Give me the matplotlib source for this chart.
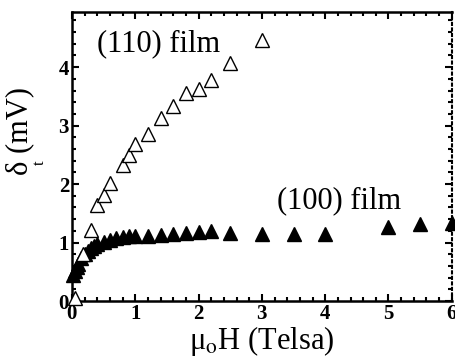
import numpy as np
import matplotlib.pyplot as plt
from matplotlib.ticker import MultipleLocator

plt.rcParams['font.family'] = ['Liberation Serif', 'DejaVu Serif']
plt.rcParams['mathtext.fontset'] = 'stix'

# (110) film, open triangles
h110 = [0.05, 0.17, 0.30, 0.40, 0.50, 0.60, 0.80, 0.90, 1.00, 1.20, 1.40, 1.60, 1.80, 2.00, 2.20, 2.50, 3.00]
d110 = [0.05, 0.80, 1.22, 1.65, 1.82, 2.02, 2.32, 2.50, 2.68, 2.85, 3.13, 3.33, 3.55, 3.62, 3.78, 4.08, 4.47]

# (100) film, filled triangles
h100 = [0.02, 0.05, 0.08, 0.10, 0.15, 0.20, 0.25, 0.30, 0.35, 0.40, 0.50, 0.60, 0.70, 0.80, 0.90, 1.00,
        1.20, 1.40, 1.60, 1.80, 2.00, 2.20, 2.50, 3.00, 3.50, 4.00, 5.00, 5.50, 6.00]
d100 = [0.45, 0.52, 0.58, 0.64, 0.73, 0.80, 0.86, 0.90, 0.94, 0.97, 1.01, 1.04, 1.08, 1.10, 1.11, 1.12,
        1.12, 1.13, 1.14, 1.16, 1.18, 1.20, 1.16, 1.15, 1.14, 1.14, 1.26, 1.31, 1.34]

fig = plt.figure(figsize=(4.55, 3.64), dpi=100)
ax = fig.add_axes([0.158, 0.173, 0.835, 0.795])

ax.plot(h100, d100, linestyle='none', marker='^', markersize=10, color='black', clip_on=False, zorder=3)
ax.plot(h110, d110, linestyle='none', marker='^', markersize=10.5, markerfacecolor='white',
        markeredgecolor='black', markeredgewidth=1.0, clip_on=False, zorder=4)

ax.set_xlim(0, 6)
ax.set_ylim(0, 4.95)
ax.xaxis.set_major_locator(MultipleLocator(1))
ax.xaxis.set_minor_locator(MultipleLocator(0.2))
ax.set_yticks([0, 1, 2, 3, 4])
ax.yaxis.set_minor_locator(MultipleLocator(0.2))
ax.tick_params(which='both', direction='in', top=True, right=True, width=1.5)
ax.tick_params(which='major', length=5, labelsize=15, pad=2)
ax.tick_params(which='minor', length=3)
for lab in ax.get_xticklabels() + ax.get_yticklabels():
    lab.set_fontweight('bold')

for side in ['left', 'bottom', 'top']:
    ax.spines[side].set_linewidth(1.8)
ax.spines['right'].set_linestyle(':')
ax.spines['right'].set_linewidth(1.5)

ax.text(0.4, 4.4, '(110) film', fontsize=22, va='center')
ax.text(3.24, 1.72, '(100) film', fontsize=22, va='center')

ax.set_xlabel(r'μ$_{\mathrm{o}}$H (Telsa)', fontsize=22)
ax.xaxis.set_label_coords(0.5, -0.08)
ax.set_ylabel('δ (mV)', fontsize=22)
ax.yaxis.set_label_coords(-0.1, 0.587)
# subscript t tucked under the delta
fig.text(0.088, 0.552, 't', fontsize=12, rotation=90, ha='center', va='center')

plt.savefig('out.png', dpi=100)
plt.close()
